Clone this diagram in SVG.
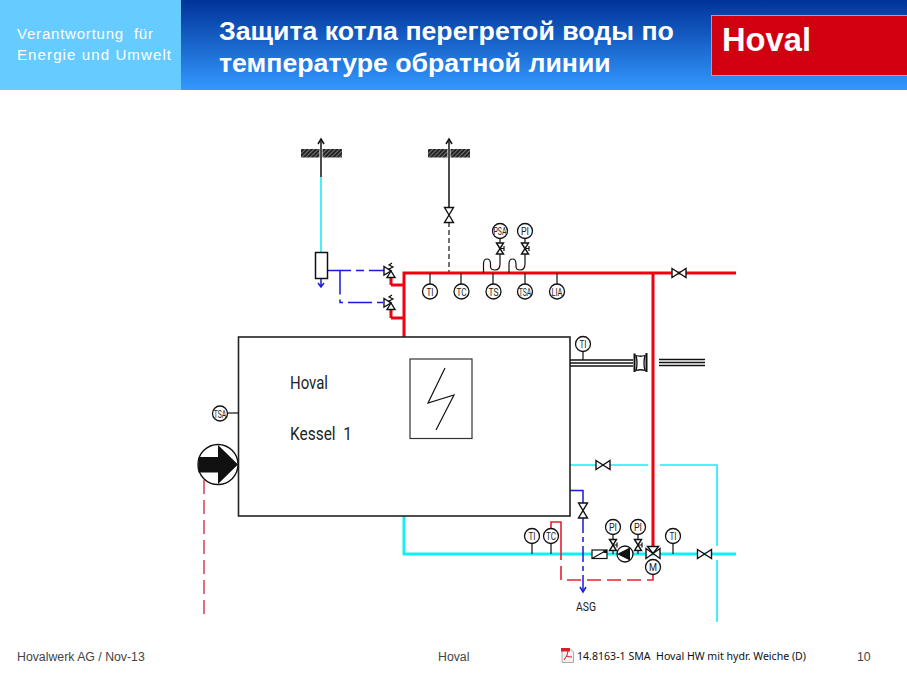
<svg xmlns="http://www.w3.org/2000/svg" xmlns:xlink="http://www.w3.org/1999/xlink" width="907" height="680" viewBox="0 0 907 680">
<style>
.bk{fill:none;stroke:#111;stroke-width:1.5}
.thin{fill:none;stroke:#111;stroke-width:1.2}
.red{fill:none;stroke:#f00010;stroke-width:3}
.redt{fill:none;stroke:#e8202c;stroke-width:1.6}
.cy{fill:none;stroke:#14eef6;stroke-width:3}
.cyt{fill:none;stroke:#14eef6;stroke-width:1.6}
.bl{fill:none;stroke:#1a1ad8;stroke-width:1.5}
.v{fill:#fff;stroke:#111;stroke-width:1.4;stroke-linejoin:miter}
.lab{font-family:"Roboto","Liberation Sans",sans-serif;fill:#222;text-anchor:middle}
.i{font-size:11px}
.big{font-family:"Roboto","Liberation Sans",sans-serif;font-size:18.5px;fill:#222}
.foot{font-family:"Liberation Sans",sans-serif;font-size:12.3px;fill:#444}
.c{fill:#fff;stroke:#111;stroke-width:1.3}
</style>
<defs>
<linearGradient id="hdr" x1="0" y1="0" x2="0" y2="1"><stop offset="0" stop-color="#003399"/><stop offset="1" stop-color="#3399ff"/></linearGradient>
<pattern id="hatch" width="3" height="3" patternUnits="userSpaceOnUse" patternTransform="rotate(45)"><rect width="3" height="3" fill="#222"/><rect width="1" height="3" fill="#777"/></pattern>
<g id="vh"><polygon class="v" points="-7,-4.5 7,4.5 7,-4.5 -7,4.5"/></g>
<g id="vv"><polygon class="v" points="-4.5,-7.500 4.500,7.500 -4.500,7.500 4.500,-7.500"/></g>
<g id="vs"><polygon class="v" points="-3.5,-5.500 3.500,5.500 -3.500,5.500 3.500,-5.500"/><path class="thin" d="M0 0H4M4 -2.5V2.5"/></g>
<g id="rv"><polygon class="v" points="-7,-4.5 -7,4 0,0"/><polygon class="v" points="0,0 -4,6.5 4,6.5"/><path class="thin" d="M0 0L-2 -2L2 -4L-2 -6L1 -8"/></g>
</defs>

<g id="header">
<rect x="0" y="0" width="907" height="90" fill="url(#hdr)"/>
<rect x="0" y="0" width="181" height="90" fill="#66ccff"/>
<text x="17" y="39" font-family="Liberation Sans,sans-serif" font-size="15" fill="#fff" xml:space="preserve" textLength="136" lengthAdjust="spacing">Verantwortung  für</text>
<text x="17" y="60" font-family="Liberation Sans,sans-serif" font-size="15" fill="#fff" textLength="154" lengthAdjust="spacing">Energie und Umwelt</text>
<text x="219" y="40" font-family="Liberation Sans,sans-serif" font-size="26.7" font-weight="bold" fill="#fff">Защита котла перегретой воды по</text>
<text x="219" y="72" font-family="Liberation Sans,sans-serif" font-size="26.7" font-weight="bold" fill="#fff">температуре обратной линии</text>
<rect x="711.500" y="15.500" width="196" height="60" fill="#d00010" stroke="#d88a9a" stroke-width="1"/>
<text x="722" y="50.500" font-family="Liberation Sans,sans-serif" font-size="34" font-weight="bold" fill="#fff" textLength="89" lengthAdjust="spacingAndGlyphs">Hoval</text>
</g>

<g id="connectors">
<path class="bk" d="M321 177V141"/><path class="bk" d="M318 144L321 139L324 144"/>
<path class="cyt" d="M321 177V252"/>
<path class="bk" d="M449 207V141"/><path class="bk" d="M446 144L449 139L452 144"/>
<path class="bk" stroke-dasharray="5 3" style="stroke-width:1.2" d="M449 222V273"/>
<path class="bl" d="M321 278V286M318 283L321 287L324 283"/>
<path class="bl" stroke-dasharray="24 5 8 5" d="M327 270.500H385"/>
<path class="bl" stroke-dasharray="24 5 6 5" d="M340 270.500V302.500H385"/>
<path class="red" d="M736 273H404V337M391 285H404M391 318H404M391 277V285M391 309V318"/>
<path class="red" d="M653 273V546"/>
<path class="thin" d="M430 273V284M461 273V284M493 273V284M525 273V284M557 273V284"/>
<path class="thin" d="M483.500 273V264Q483.500 259 487 259Q490.500 259 490.500 264V267Q491 270 495 270Q500 270 500 264V238"/>
<path class="thin" d="M509 273V264Q509 259 512.500 259Q516 259 516 264V267Q516.500 270 520 270Q525 270 525 264V238"/>
<path class="thin" d="M583 351V360"/>
<path d="M570 360H633M570 363H633M570 366H633M659 359.500H705M659 362.500H705M659 365.500H705" fill="none" stroke="#111" stroke-width="1.600"/>
<path class="cy" d="M404 516V554H736"/>
<path class="cyt" d="M570 465H648M660 465H717V546M717 560V622"/>
<path class="bl" d="M570 490.500H583V503"/>
<path class="bl" stroke-dasharray="16 4 5 4" d="M583 517V590"/>
<path class="bl" d="M580 587L583 592L586 587"/>
<path class="thin" d="M532 543V554M551 543V554M613 534V554M638 534V554M673 543V554"/>
<path d="M551 529V522H561V546" fill="none" stroke="#e8202c" stroke-width="1.600"/>
<path class="redt" stroke-dasharray="14 6" d="M561 546V580H653V574"/>
<path d="M204 480V617" fill="none" stroke="#dc4a5a" stroke-width="1.600" stroke-dasharray="14 6"/>
<path class="thin" d="M226 413H238"/>
</g>

<g id="vent-left"><rect x="301" y="149" width="41" height="8.500" fill="url(#hatch)"/><rect x="319.500" y="147" width="3" height="12" fill="#fff"/><path class="bk" d="M321 147V159"/></g>
<g id="vent-right"><rect x="428" y="149" width="42" height="8.500" fill="url(#hatch)"/><rect x="447.500" y="147" width="3" height="12" fill="#fff"/><path class="bk" d="M449 147V159"/></g>
<g id="valve-vent"><use xlink:href="#vv" href="#vv" x="449" y="215"/></g>
<g id="separator"><rect x="315.500" y="252.500" width="12" height="26" fill="#fff" stroke="#111" stroke-width="1.500"/></g>
<g id="relief-1"><use xlink:href="#rv" href="#rv" x="391" y="271"/></g>
<g id="relief-2"><use xlink:href="#rv" href="#rv" x="391" y="303"/></g>

<g id="ti-1"><circle class="c" cx="430" cy="291.500" r="7.500"/><text class="lab i" x="430" y="295.500" textLength="7" lengthAdjust="spacingAndGlyphs">TI</text></g>
<g id="tc-1"><circle class="c" cx="461.500" cy="291.500" r="7.500"/><text class="lab i" x="461.500" y="295.500" textLength="10" lengthAdjust="spacingAndGlyphs">TC</text></g>
<g id="ts"><circle class="c" cx="493.500" cy="291.500" r="7.500"/><text class="lab i" x="493.500" y="295.500" textLength="10" lengthAdjust="spacingAndGlyphs">TS</text></g>
<g id="tsa-1"><circle class="c" cx="525" cy="291.500" r="7.500"/><text class="lab i" x="525" y="295.500" textLength="12.500" lengthAdjust="spacingAndGlyphs">TSA</text></g>
<g id="lia"><circle class="c" cx="557" cy="291.500" r="7.500"/><text class="lab i" x="557" y="295.500" textLength="11" lengthAdjust="spacingAndGlyphs">LIA</text></g>
<g id="psa"><circle class="c" cx="500" cy="231" r="7.500"/><text class="lab i" x="500" y="235" textLength="13" lengthAdjust="spacingAndGlyphs">PSA</text><use xlink:href="#vs" href="#vs" x="500" y="248.500"/></g>
<g id="pi-1"><circle class="c" cx="525" cy="231" r="7.500"/><text class="lab i" x="525" y="235" textLength="8" lengthAdjust="spacingAndGlyphs">PI</text><use xlink:href="#vs" href="#vs" x="525" y="248.500"/></g>
<g id="valve-flow"><use xlink:href="#vh" href="#vh" x="679" y="273"/></g>
<g id="ti-2"><circle class="c" cx="583" cy="344" r="7.500"/><text class="lab i" x="583" y="348" textLength="7" lengthAdjust="spacingAndGlyphs">TI</text></g>
<g id="flange"><path d="M636 355.500Q640.500 357 645 355.500Q643 363 645 370.500Q640.500 369 636 370.500Q638 363 636 355.500Z" fill="#fff" stroke="#111" stroke-width="1.300"/><path d="M634.500 353.500V372M646.500 353V372" fill="none" stroke="#111" stroke-width="2"/></g>

<g id="boiler">
<rect x="238.500" y="337" width="331.500" height="179" fill="#fff" stroke="#222" stroke-width="1.600"/>
<text class="big" x="290" y="388.500" textLength="38" lengthAdjust="spacingAndGlyphs">Hoval</text>
<text class="big" x="290" y="439.500" xml:space="preserve" textLength="62" lengthAdjust="spacingAndGlyphs">Kessel  1</text>
<rect x="410" y="359" width="62" height="79.500" fill="#fff" stroke="#333" stroke-width="1.200"/>
<path d="M445 368L428 403L454 395L436 430" fill="none" stroke="#111" stroke-width="1.200"/>
</g>
<g id="tsa-2"><circle class="c" cx="220" cy="413.500" r="7.500"/><text class="lab i" x="220" y="417.500" textLength="12.500" lengthAdjust="spacingAndGlyphs">TSA</text></g>
<g id="burner">
<circle cx="218" cy="464.500" r="20" fill="#fff" stroke="#111" stroke-width="1.400"/>
<polygon points="198.500,457 218,457 218,445 238,464.500 218,484 218,472.500 198.500,472.500" fill="#111"/>
</g>

<g id="valve-bypass"><use xlink:href="#vh" href="#vh" x="603" y="465"/></g>
<g id="valve-drain"><use xlink:href="#vv" href="#vv" x="583" y="510.500"/></g>
<g id="asg"><text class="lab" x="586" y="611" font-size="13" textLength="20" lengthAdjust="spacingAndGlyphs">ASG</text></g>
<g id="ti-3"><circle class="c" cx="532" cy="536" r="7.500"/><text class="lab i" x="532" y="540" textLength="7" lengthAdjust="spacingAndGlyphs">TI</text></g>
<g id="tc-2"><circle class="c" cx="551" cy="536" r="7.500"/><text class="lab i" x="551" y="540" textLength="10" lengthAdjust="spacingAndGlyphs">TC</text></g>
<g id="flowmeter"><rect x="592" y="550" width="15" height="8.500" fill="#fff" stroke="#111" stroke-width="1.200"/><path d="M592 558.500L607 550" class="thin"/><rect x="603.500" y="550" width="3.500" height="3" fill="#111"/></g>
<g id="pi-2"><circle class="c" cx="613" cy="527" r="7.500"/><text class="lab i" x="613" y="531" textLength="8" lengthAdjust="spacingAndGlyphs">PI</text><use xlink:href="#vs" href="#vs" x="613" y="545"/></g>
<g id="pi-3"><circle class="c" cx="638" cy="527" r="7.500"/><text class="lab i" x="638" y="531" textLength="8" lengthAdjust="spacingAndGlyphs">PI</text><use xlink:href="#vs" href="#vs" x="638" y="545"/></g>
<g id="pump"><circle cx="625" cy="554" r="8" fill="#fff" stroke="#111" stroke-width="1.300"/><path d="M617 554L630 547.500V560.500Z" fill="#111"/></g>
<g id="mixer"><polygon class="v" points="646,548.500 660,558.500 660,548.500 646,558.500"/><polygon class="v" points="647.500,546.500 658.500,546.500 653,553.500" style="stroke-width:1.400"/></g>
<g id="motor"><circle class="c" cx="653" cy="567" r="7.500"/><text class="lab i" x="653" y="571" textLength="8" lengthAdjust="spacingAndGlyphs">M</text></g>
<g id="ti-4"><circle class="c" cx="673" cy="536" r="7.500"/><text class="lab i" x="673" y="540" textLength="7" lengthAdjust="spacingAndGlyphs">TI</text></g>
<g id="valve-return"><use xlink:href="#vh" href="#vh" x="704.500" y="554"/></g>

<g id="footer">
<text class="foot" x="17" y="661">Hovalwerk AG / Nov-13</text>
<text class="foot" x="438" y="661">Hoval</text>
<text class="foot" x="857" y="661">10</text>
<path d="M562 648.500H570L573.500 652V662.500H562Z" fill="#f4f0ee" stroke="#aaa" stroke-width="1"/>
<path d="M561 648H570V651.500H561Z" fill="#d8202a"/>
<path d="M564 660Q568 655 568 651M566 656Q569 657 572 657" fill="none" stroke="#d8202a" stroke-width="1"/>
<text x="577" y="659.500" font-family="Noto Sans,sans-serif" font-size="11" fill="#111" xml:space="preserve" textLength="229" lengthAdjust="spacingAndGlyphs">14.8163-1 SMA  Hoval HW mit hydr. Weiche (D)</text>
</g>
</svg>
